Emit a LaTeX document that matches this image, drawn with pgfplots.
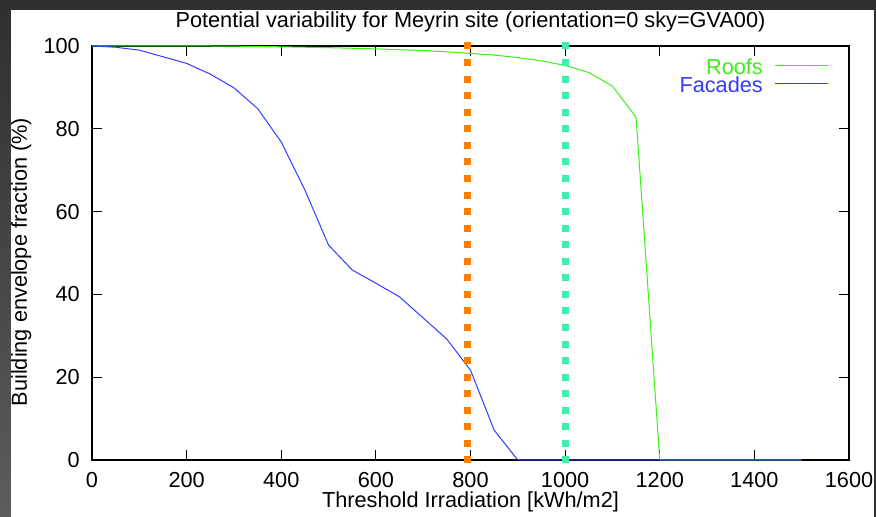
\documentclass[border=0pt]{standalone}
\usepackage{fontspec}
\setmainfont{Liberation Sans}
\usepackage{pgfplots}
\pgfplotsset{compat=1.18}
\definecolor{roofc}{RGB}{60,240,20}
\definecolor{facc}{RGB}{50,60,255}
\definecolor{orangec}{RGB}{255,128,0}
\definecolor{aquac}{RGB}{64,240,170}
\definecolor{frame}{RGB}{48,48,48}
\definecolor{frameL}{RGB}{92,92,92}
\begin{document}
\begin{tikzpicture}[x=1bp,y=1bp]
\fill[frame] (0,0) rectangle (876,517);
\shade[bottom color=frameL, top color=frame] (0,0) rectangle (11,507);
\fill[white] (11,0) rectangle (874,507);
\useasboundingbox (0,0) rectangle (876,517);
\begin{axis}[
  at={(92bp,57bp)}, anchor=south west,
  scale only axis, width=757bp, height=414bp,
  xmin=0, xmax=1600, ymin=0, ymax=100,
  xtick={0,200,...,1600}, ytick={0,20,...,100},
  /pgf/number format/assume math mode=true,
  /pgf/number format/1000 sep={},
  font=\fontsize{21.8}{25}\selectfont,
  axis line style={black, line width=1.1bp},
  major tick style={black, line width=1.1bp},
  major tick length=10bp,
  tick align=inside,
  clip=false,
  xticklabel style={inner sep=0pt, anchor=north, yshift=-12bp},
  yticklabel style={inner sep=0pt, anchor=east, xshift=-12bp},
  title={Potential variability for Meyrin site (orientation=0 sky=GVA00)},
  title style={at={([yshift=13bp]axis description cs:0.5,1)}, anchor=base, inner sep=0pt},
  xlabel={Threshold Irradiation [kWh/m2]},
  xlabel style={at={([yshift=-48bp]axis description cs:0.5,0)}, anchor=base, inner sep=0pt},
  ylabel={Building envelope fraction (\%)},
  ylabel style={at={([xshift=-65bp,yshift=-9bp]axis description cs:0,0.5)}, anchor=base, inner sep=0pt},
  legend plot pos=right,
  legend cell align=right,
  legend image code/.code={\draw[#1] (0bp,3bp) -- (53bp,3bp);},
  legend style={draw=none, fill=none, inner sep=0pt, column sep=12bp,
    at={(axis description cs:0.9736,0.9686)}, anchor=north east,
    nodes={inner sep=0pt, text height=15bp, text depth=3.3bp}},
]
\addplot[roofc, line width=1bp] coordinates {
(0,100) (50,100) (100,100) (150,100) (200,100) (250,100) (300,99.95) (350,99.9)
(400,99.8) (450,99.7) (500,99.6) (550,99.45) (600,99.3) (650,99.1) (700,98.9)
(750,98.6) (800,98.2) (850,97.8) (900,97.2) (950,96.4) (1000,95.3) (1050,93.6)
(1100,90.3) (1150,82.8) (1200,0) (1250,0) (1300,0) (1350,0) (1400,0) (1450,0) (1500,0)};
\addlegendentry{\textcolor{roofc}{Roofs}}
\addplot[facc, line width=1bp] coordinates {
(0,100) (50,99.7) (100,99.0) (150,97.4) (200,95.8) (250,93.2) (300,89.9) (350,84.9)
(400,76.8) (450,65.2) (500,51.9) (550,45.9) (600,42.7) (650,39.4) (700,34.3)
(750,29.2) (800,21.7) (850,7.2) (900,0) (950,0) (1000,0) (1050,0) (1100,0) (1150,0)
(1200,0) (1250,0) (1300,0) (1350,0) (1400,0) (1450,0) (1500,0)};
\addlegendentry{\textcolor{facc}{Facades}}
\addplot[orangec, line width=7bp, dash pattern=on 7bp off 9.56bp, forget plot] coordinates {(793,-0.845) (793,100.845)};
\addplot[aquac, line width=7bp, dash pattern=on 7bp off 9.56bp, forget plot] coordinates {(1000,-0.845) (1000,100.845)};
\end{axis}
\end{tikzpicture}
\end{document}
